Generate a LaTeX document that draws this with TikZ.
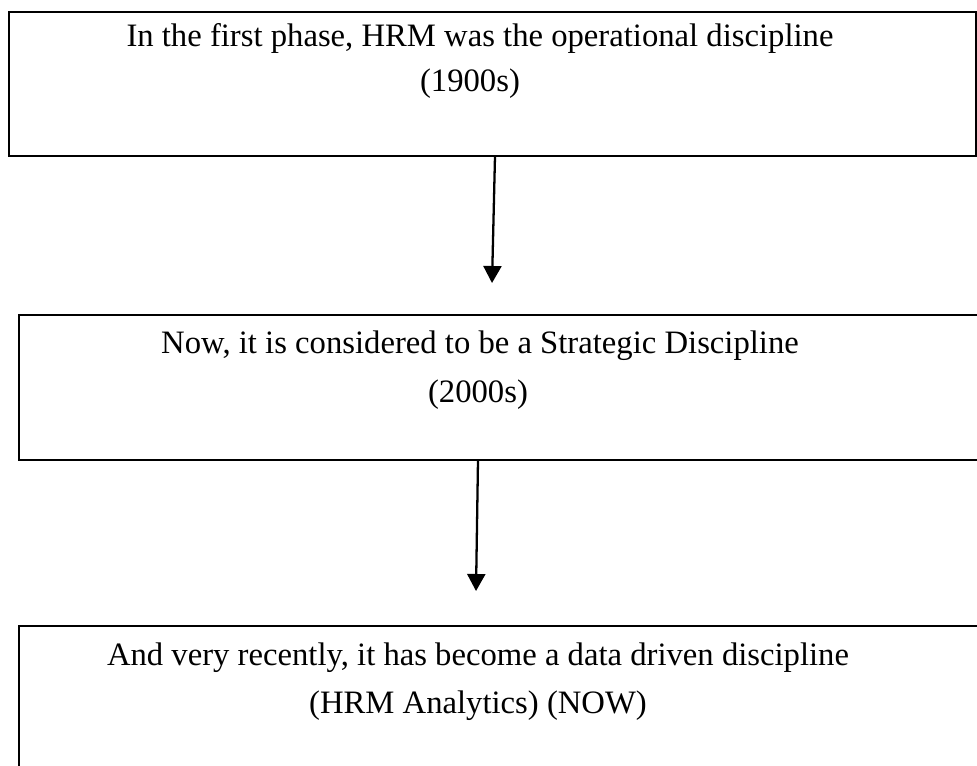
\documentclass[tikz,border=0pt]{standalone}
\usepackage{fontspec}
\setmainfont{Liberation Serif}
\usetikzlibrary{arrows.meta,positioning}

\tikzset{
  stagebox/.style={draw, line width=1.3pt, inner sep=0pt},
  stagetext/.style={font=\fontsize{18.6}{22}\selectfont, inner sep=0pt},
  flowarrow/.style={line width=1.3pt, -{Triangle[width=0.36cm,length=0.34cm]}}
}

\begin{document}
\begin{tikzpicture}[x=0.02cm, y=-0.02cm]
  \useasboundingbox (0,0) rectangle (977,765);
  \clip (0,0) rectangle (977,765);
  % boxes
  \node[stagebox, minimum width=19.34cm, minimum height=2.88cm] (phase1) at (492.5,84) {};
  \node[stagebox, minimum width=19.42cm, minimum height=2.9cm] (phase2) at (504.5,387.5) {};
  \node[stagebox, minimum width=19.42cm, minimum height=3.08cm] (phase3) at (504.5,703) {};
  % texts
  \node[stagetext] (phase1a) at (480,38) {In the first phase, HRM was the operational discipline};
  \node[stagetext] (phase1b) at (470,84) {(1900s)};
  \node[stagetext] (phase2a) at (480,346) {Now, it is considered to be a Strategic Discipline};
  \node[stagetext] (phase2b) at (478,395) {(2000s)};
  \node[stagetext] (phase3a) at (478,658) {And very recently, it has become a data driven discipline};
  \node[stagetext] (phase3b) at (478,706) {(HRM Analytics) (NOW)};
  % arrows
  \coordinate (tip1) at (492,283);
  \coordinate (tip2) at (476,591);
  \coordinate (tail1) at (495,156);
  \coordinate (tail2) at (478,460);
  \draw[flowarrow] (tail1) -- (tip1);
  \draw[flowarrow] (tail2) -- (tip2);
\end{tikzpicture}
\end{document}
